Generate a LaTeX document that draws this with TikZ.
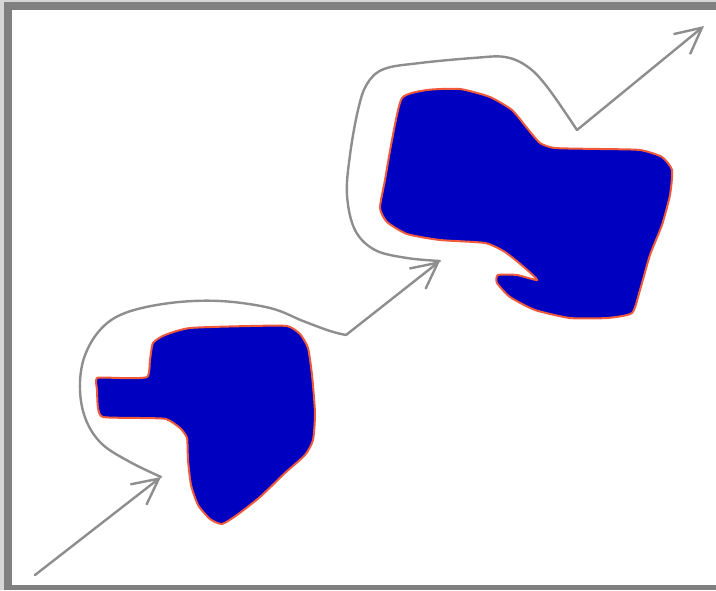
\documentclass[tikz,border=0pt]{standalone}
\usetikzlibrary{arrows.meta}
\definecolor{framegray}{HTML}{808080}
\definecolor{outergray}{HTML}{D6D6D6}
\definecolor{pathgray}{HTML}{8E8E8E}
\definecolor{blobblue}{HTML}{0000C0}
\definecolor{blobedge}{HTML}{F05A3C}
\tikzset{
  blob/.style={fill=blobblue, draw=blobedge, line width=2pt, line join=round},
  route/.style={draw=pathgray, line width=2.4pt, line cap=round, line join=round},
  routearrow/.style={route, -{Straight Barb[length=26pt,width=26pt,line width=2.4pt]}},
}
\begin{document}
\begin{tikzpicture}[x=1pt,y=-1pt]
\useasboundingbox (0,0) rectangle (716,590);
% frame
\fill[white] (0,0) rectangle (716,590);
\fill[outergray] (0,0) rectangle (716,2);
\fill[outergray] (0,0) rectangle (4,590);
\fill[framegray] (4,2) rectangle (716,10);
\fill[framegray] (4,2) rectangle (12,590);
\fill[framegray] (4,585) rectangle (716,590);
% blobs
\draw[blob] plot[smooth cycle, tension=0.35] coordinates {
 (153,343) (165,335) (190,328) (250,326) (287,326) (300,334) (308,348) (312,375)
 (315,413) (313,440) (305,455) (285,473) (260,497) (237,515) (222,524) (210,519)
 (198,505) (191,485) (188,460) (187,438) (180,428) (166,419) (140,418) (103,417)
 (98,408) (97,390) (97,378) (120,378) (147,377) (150,360)};
\draw[blob] plot[smooth cycle, tension=0.35] coordinates {
 (402,98) (427,90) (460,89) (490,97) (512,110) (527,128) (540,143) (555,148)
 (600,149) (640,150) (662,157) (672,170) (670,195) (662,225) (650,255) (640,290)
 (632,313) (607,318) (570,318) (535,310) (510,297) (497,283) (498,275) (517,275)
 (537,280) (525,268) (505,252) (485,243) (440,240) (407,234) (387,222) (380,208)
 (385,180) (392,140)};
% route coordinates
\coordinate (s0) at (35,575);
\coordinate (t1) at (161,477);
\coordinate (c1) at (346,335);
\coordinate (t2) at (440,261);
\coordinate (c2) at (577,130);
\coordinate (t3) at (704,26);
\draw[routearrow] (s0) -- (t1);
\draw[route] plot[smooth, tension=0.6] coordinates {
 (t1) (130,462) (102,444) (86,420) (80,390) (84,358) (100,330) (125,313) (170,303)
 (220,301) (270,308) (303,321) (330,331) (c1)};
\draw[routearrow] (c1) -- (t2);
\draw[route] plot[smooth, tension=0.6] coordinates {
 (t2) (407,258) (375,250) (355,230) (347,195) (350,155) (358,110) (367,84)
 (384,69) (420,63) (473,58) (505,57) (528,67) (548,88) (c2)};
\draw[routearrow] (c2) -- (t3);
\end{tikzpicture}
\end{document}
